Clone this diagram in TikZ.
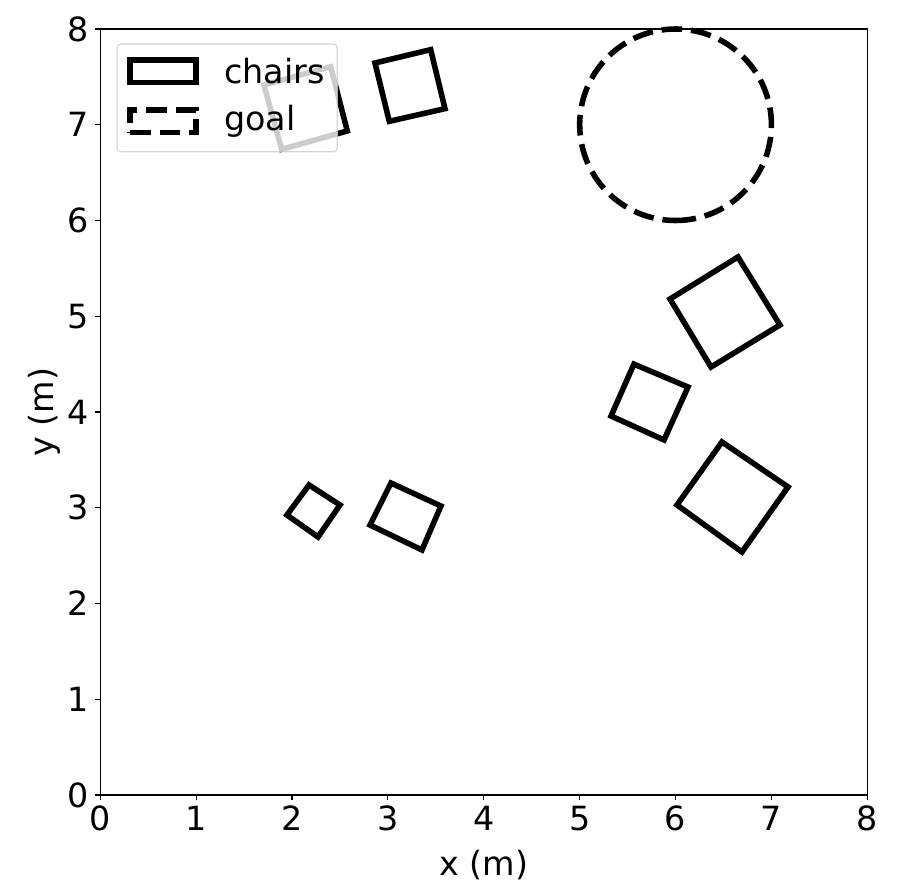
\documentclass[tikz,border=0pt]{standalone}
\usepackage{fontspec}
\setmainfont{DejaVu Sans}
\begin{document}
\begin{tikzpicture}[x=0.72pt,y=-0.72pt,
  chair/.style={draw=black,line width=4pt,line join=miter},
  goalline/.style={draw=black,line width=4pt,dash pattern=on 14.8pt off 6.4pt},
  spine/.style={draw=black,line width=0.8pt},
  tickmark/.style={draw=black,line width=0.8pt},
  ticklbl/.style={font=\fontsize{24}{28}\selectfont,inner sep=0pt},
  axlbl/.style={font=\fontsize{24}{28}\selectfont,inner sep=0pt},
  leglbl/.style={font=\fontsize{24}{28}\selectfont,inner sep=0pt,anchor=base west},
  legframe/.style={draw=black!20,draw opacity=0.8,fill=white,fill opacity=0.8,line width=0.8pt,rounded corners=2.8pt}]
\useasboundingbox (0,0) rectangle (909,889);
\begin{scope}[shift={(100.3,795)},x=69.03pt,y=68.94pt]
  % chairs
  \draw[chair] (1.707,7.415) -- (2.403,7.606) -- (2.576,6.935) -- (1.892,6.744) -- cycle;
  \draw[chair] (2.865,7.645) -- (3.446,7.784) -- (3.595,7.168) -- (3.014,7.036) -- cycle;
  \draw[chair] (5.942,5.180) -- (6.651,5.619) -- (7.089,4.909) -- (6.370,4.470) -- cycle;
  \draw[chair] (5.566,4.500) -- (6.130,4.261) -- (5.880,3.708) -- (5.327,3.958) -- cycle;
  \draw[chair] (6.484,3.687) -- (7.173,3.217) -- (6.693,2.538) -- (6.015,3.029) -- cycle;
  \draw[chair] (2.177,3.238) -- (2.500,3.029) -- (2.271,2.695) -- (1.947,2.924) -- cycle;
  \draw[chair] (3.032,3.258) -- (3.553,3.018) -- (3.355,2.559) -- (2.813,2.820) -- cycle;
  % goal
  \coordinate (goalc) at (6,7);
  \draw[goalline] (6,6) arc[start angle=-90,end angle=270,radius=1];
  % spines
  \draw[spine] (0,0) rectangle (8,8);
  % ticks and labels
  \foreach \i in {0,...,8} {
    \draw[tickmark] (\i,0) -- ++(0pt,-3.5pt);
    \draw[tickmark] (0,\i) -- ++(-3.5pt,0pt);
    \node[ticklbl,anchor=base] (xt\i) at ([yshift=-25.3pt]\i,0) {\i};
    \node[ticklbl,anchor=east] (yt\i) at ([xshift=-8.2pt]0,\i) {\i};
  }
  \node[axlbl,anchor=base] (xlab) at ([yshift=-58.3pt]4,0) {x (m)};
  \node[axlbl,anchor=base,rotate=90] (ylab) at ([xshift=-33.8pt]0,4) {y (m)};
\end{scope}
% legend
\path[legframe] (117,44) rectangle (337.3,151.7);
\draw[black,line width=4pt,line join=miter] (130.1,82.5) -- (196.2,82.5) -- (196.2,60.1) -- (130.1,60.1) -- cycle;
\draw[goalline,line join=miter] (130.1,132.5) -- (196.2,132.5) -- (196.2,110.1) -- (130.1,110.1) -- cycle;
\node[leglbl] (lchairs) at (224,83) {chairs};
\node[leglbl] (lgoal) at (224,130) {goal};
\end{tikzpicture}
\end{document}
